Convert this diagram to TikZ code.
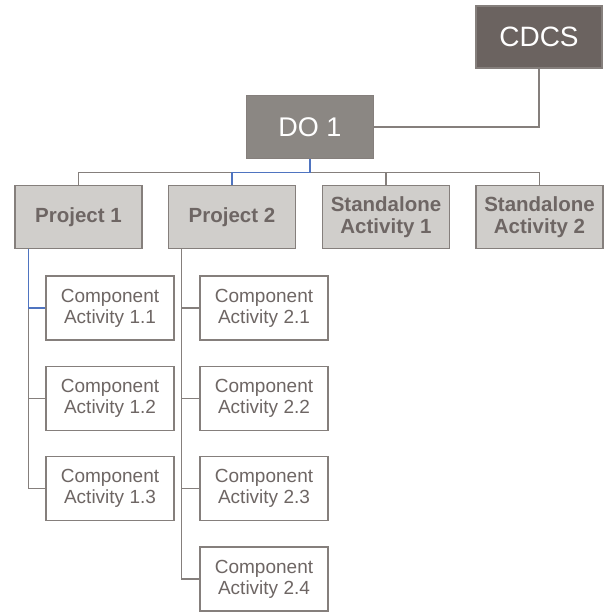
\documentclass[tikz,border=0pt]{standalone}
\usepackage{fontspec}
\setmainfont{Liberation Sans}
\usetikzlibrary{calc}
\definecolor{boxline}{HTML}{857F7C}
\definecolor{txtgray}{HTML}{6E6664}
\definecolor{cdcsfill}{HTML}{6B6360}
\definecolor{dofill}{HTML}{8B8783}
\definecolor{projfill}{HTML}{D0CECB}
\definecolor{selblue}{HTML}{4F74C0}

\begin{document}
\begin{tikzpicture}[x=1pt,y=-1pt,
    topbox/.style={draw=boxline, line width=1.3pt, minimum width=126pt, minimum height=62pt, inner sep=0pt, align=center, text=white},
    projbox/.style={draw=boxline, line width=1.3pt, fill=projfill, minimum width=127pt, minimum height=63pt, inner sep=0pt, align=center, text=txtgray, font=\fontsize{20.5}{21.5}\selectfont\bfseries},
    compbox/.style={draw=boxline, line width=1.3pt, fill=white, minimum width=128pt, minimum height=64pt, inner sep=0pt, align=center, text=txtgray, font=\fontsize{19}{21}\selectfont},
    link/.style={draw=boxline, line width=1.2pt},
    sellink/.style={draw=selblue, line width=1.2pt}]
    \useasboundingbox (0,0) rectangle (605,612);

    \node [topbox, fill=cdcsfill, font=\fontsize{28}{30}\selectfont] (cdcs) at (539,37) {CDCS};
    \node [topbox, fill=dofill, minimum width=127pt, minimum height=63pt, font=\fontsize{27}{29}\selectfont] (do1) at (310,127) {DO 1};

    \node [projbox] (proj1) at (78.5,217) {Project 1};
    \node [projbox] (proj2) at (232,217) {Project 2};
    \node [projbox] (sa1) at (386,217) {Standalone\\Activity 1};
    \node [projbox] (sa2) at (539.5,217) {Standalone\\Activity 2};

    \node [compbox] (ca11) at (110,308) {Component\\Activity 1.1};
    \node [compbox] (ca12) at (110,398.5) {Component\\Activity 1.2};
    \node [compbox] (ca13) at (110,488.5) {Component\\Activity 1.3};

    \node [compbox] (ca21) at (264,308) {Component\\Activity 2.1};
    \node [compbox] (ca22) at (264,398.5) {Component\\Activity 2.2};
    \node [compbox] (ca23) at (264,488.5) {Component\\Activity 2.3};
    \node [compbox] (ca24) at (264,579) {Component\\Activity 2.4};

    \draw [link] (do1.east) -| (cdcs.south);% DO to CDCS

    \foreach \p in {proj1,sa1,sa2}
      \draw [link] (do1.south) -- ++(0,13) -| (\p.north);
    \draw [sellink] (do1.south) -- ++(0,13) -| (proj2.north);

    \foreach \c in {ca11,ca12,ca13}
      \draw [link] (proj1.south west) ++(14,0) |- (\c.west);
    \draw [sellink] (proj1.south west) ++(14,0) |- (ca11.west);

    \foreach \c in {ca21,ca22,ca23,ca24}
      \draw [link] (proj2.south west) ++(14,0) |- (\c.west);
\end{tikzpicture}
\end{document}
